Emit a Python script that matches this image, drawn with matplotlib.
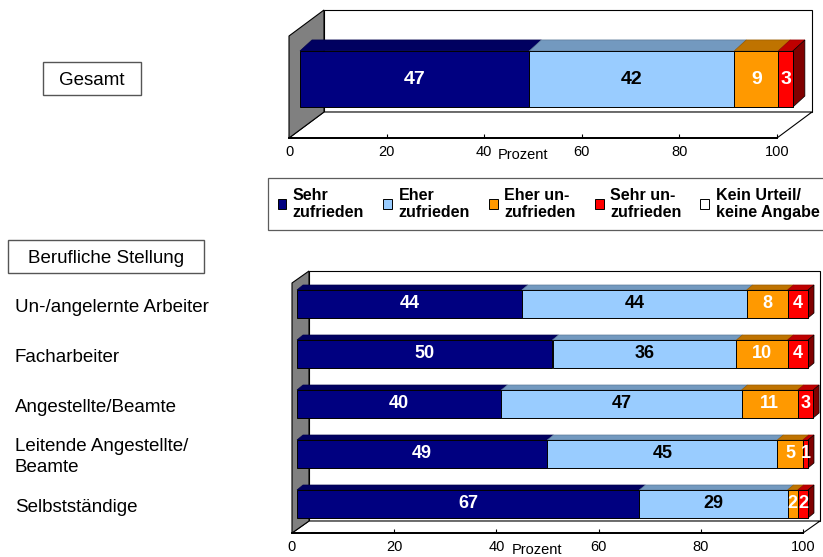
import numpy as np
import matplotlib
matplotlib.use("Agg")
import matplotlib.pyplot as plt
from matplotlib.patches import Polygon, Rectangle, Patch
from matplotlib.transforms import blended_transform_factory, Affine2D
from matplotlib.colors import to_rgb

plt.rcParams['font.family'] = ['Liberation Sans', 'DejaVu Sans']

# ---------------------------------------------------------------- data
legend_labels = ["Sehr\nzufrieden", "Eher\nzufrieden", "Eher un-\nzufrieden",
                 "Sehr un-\nzufrieden", "Kein Urteil/\nkeine Angabe"]

gesamt_rows = ["Gesamt"]
gesamt = [[47], [42], [9], [3], [0]]

stellung_rows = ["Un-/angelernte Arbeiter", "Facharbeiter",
                 "Angestellte/Beamte", "Leitende Angestellte/\nBeamte",
                 "Selbstständige"]
sehr_zufrieden = [44, 50, 40, 49, 67]
eher_zufrieden = [44, 36, 47, 45, 29]
eher_unzufrieden = [8, 10, 11, 5, 2]
sehr_unzufrieden = [4, 4, 3, 1, 2]
kein_urteil = [0, 0, 0, 0, 0]

xticks = [0, 20, 40, 60, 80, 100]

colors = ["#000080", "#99CCFF", "#FF9900", "#FF0000", "#FFFFFF"]
text_colors = ["white", "black", "white", "white", "black"]

W, H = 823, 557
fig = plt.figure(figsize=(W / 100, H / 100), dpi=100)


def px_axes(x0, y0, x1, y1):
    return fig.add_axes([x0 / W, 1 - y1 / H, (x1 - x0) / W, (y1 - y0) / H])


def shade(c, f):
    r, g, b = to_rgb(c)
    return (r * f, g * f, b * f)


def draw_panel(ax, rows, series, wall_depth, bar_shift, bar_depth, bar_h,
               label_size):
    n = len(rows)
    ax.set_xlim(0, 100)
    ax.set_ylim(n - 0.5, -0.5)
    ax.set_facecolor("none")
    for s in ["top", "left", "right"]:
        ax.spines[s].set_visible(False)
    ax.spines["bottom"].set_linewidth(1.4)
    ax.spines["bottom"].set_zorder(6)
    ax.set_yticks([])
    ax.set_xticks(xticks)
    ax.tick_params(axis="x", direction="in", length=3, width=0.8,
                   labelsize=10.5, pad=5)

    p0 = ax.transData.transform((0, 0))
    p1 = ax.transData.transform((1, 1))

    def off(dx, dy):
        return dx / (p1[0] - p0[0]), dy / (p1[1] - p0[1])

    yb, yt = n - 0.5, -0.5
    wdx, wdy = off(*wall_depth)
    # back wall, floor, left wall
    ax.add_patch(Rectangle((wdx, yt + wdy), 100, yb - yt, facecolor="white",
                           edgecolor="black", lw=0.8, clip_on=False, zorder=0))
    ax.add_patch(Polygon([(0, yb), (100, yb), (100 + wdx, yb + wdy),
                          (wdx, yb + wdy)], closed=True, facecolor="white",
                         edgecolor="black", lw=0.8, clip_on=False, zorder=1))
    ax.add_patch(Polygon([(0, yb), (0, yt), (wdx, yt + wdy), (wdx, yb + wdy)],
                         closed=True, facecolor="#808080", edgecolor="black",
                         lw=0.8, clip_on=False, zorder=2))

    sdx, sdy = off(*bar_shift)
    bdx, bdy = off(*bar_depth)
    y = np.arange(n) + sdy
    left = np.zeros(n)
    last_color = [None] * n
    for vals, col, tcol in zip(series, colors, text_colors):
        vals = np.asarray(vals, dtype=float)
        ax.barh(y, vals, bar_h, left=left + sdx, color=col,
                edgecolor="black", lw=0.7, zorder=4, clip_on=False)
        for i, v in enumerate(vals):
            if v <= 0:
                continue
            l, r = left[i] + sdx, left[i] + v + sdx
            top = y[i] - bar_h / 2
            ax.add_patch(Polygon([(l, top), (r, top), (r + bdx, top + bdy),
                                  (l + bdx, top + bdy)], closed=True,
                                 facecolor=shade(col, 0.75),
                                 edgecolor=shade(col, 0.6), lw=0.5,
                                 clip_on=False, zorder=3))
            ax.text(l + v / 2, y[i], f"{v:.0f}", ha="center", va="center",
                    color=tcol, fontsize=label_size, fontweight="bold",
                    zorder=7, clip_on=False)
            last_color[i] = col
        left += vals
    for i in range(n):
        r = left[i] + sdx
        top, bot = y[i] - bar_h / 2, y[i] + bar_h / 2
        ax.add_patch(Polygon([(r, bot), (r, top), (r + bdx, top + bdy),
                              (r + bdx, bot + bdy)], closed=True,
                             facecolor=shade(last_color[i], 0.5),
                             edgecolor="black", lw=0.5, clip_on=False,
                             zorder=3))
    ax.text(48, yb, "Prozent", ha="center", va="top", fontsize=10.5,
            transform=ax.transData + Affine2D().translate(0, -10))
    return y


# ---------------------------------------------------------------- top panel
ax_top = px_axes(289, 36, 777, 138)
draw_panel(ax_top, gesamt_rows, gesamt, wall_depth=(35, 26),
           bar_shift=(11, 8), bar_depth=(12, 11), bar_h=0.55,
           label_size=14)

# ---------------------------------------------------------------- bottom panel
ax_bot = px_axes(292, 283, 803, 533)
series = [sehr_zufrieden, eher_zufrieden, eher_unzufrieden, sehr_unzufrieden,
          kein_urteil]
ybars = draw_panel(ax_bot, stellung_rows, series, wall_depth=(17, 12),
                   bar_shift=(5, 4), bar_depth=(6, 5), bar_h=0.56,
                   label_size=13)

# category labels on the left
tr = blended_transform_factory(fig.transFigure, ax_bot.transData) \
    + Affine2D().translate(0, -3)
for yy, lab in zip(ybars, stellung_rows):
    fig.text(15 / W, yy, lab, ha="left", va="center", fontsize=13.5,
             transform=tr, linespacing=1.3)

# boxed headings
for (x0, y0, x1, y1), txt in [((43, 62, 141, 95), "Gesamt"),
                              ((8, 240, 204, 273), "Berufliche Stellung")]:
    fig.patches.append(Rectangle((x0 / W, 1 - y1 / H), (x1 - x0) / W,
                                 (y1 - y0) / H, transform=fig.transFigure,
                                 facecolor="white", edgecolor="#555555",
                                 lw=1.0))
    fig.text((x0 + x1) / 2 / W, 1 - (y0 + y1) / 2 / H, txt, ha="center",
             va="center_baseline", fontsize=13.5)

# legend
handles = [Patch(facecolor=c, edgecolor="black", lw=0.7) for c in colors]
leg = fig.legend(handles, legend_labels, ncol=5, loc="upper left",
                 bbox_to_anchor=(268 / W, 1 - 178 / H), frameon=True,
                 fancybox=False, edgecolor="#333333",
                 prop={"weight": "bold", "size": 11.5},
                 handlelength=0.55, handleheight=0.55, handletextpad=0.4,
                 columnspacing=1.2, borderaxespad=0, borderpad=0.6,
                 labelspacing=0.2)
leg.get_frame().set_linewidth(0.9)

fig.savefig("out.png", dpi=100)
